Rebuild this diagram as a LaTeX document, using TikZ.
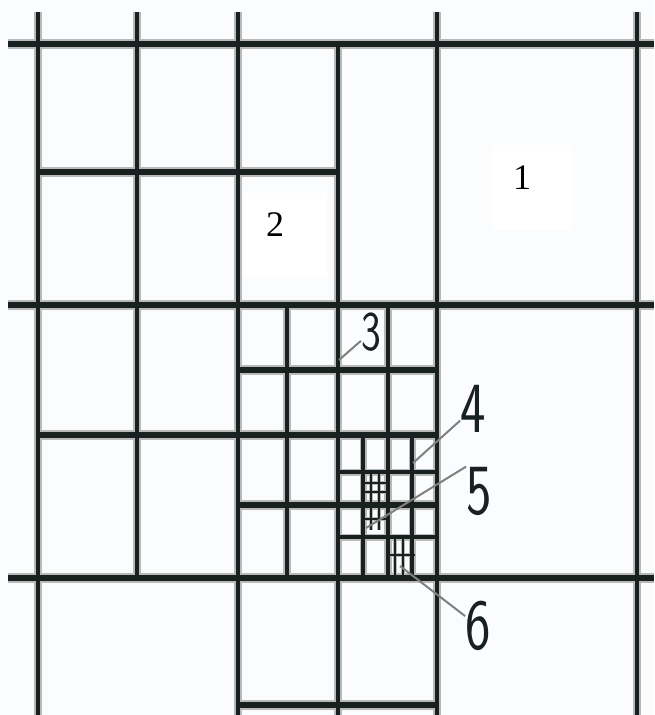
\documentclass[tikz,border=0pt]{standalone}
\usepackage{fontspec}
\setmainfont{Liberation Serif}
\usepackage{xcolor}
\usetikzlibrary{positioning}

\definecolor{paper}{RGB}{251,252,254}
\definecolor{ink}{RGB}{24,32,32}

\begin{document}
\begin{tikzpicture}[x=1pt,y=-1pt]
  \tikzstyle{serifnum}=[inner sep=0pt,font=\fontsize{36}{40}\selectfont]
  \tikzstyle{bignum}=[inner sep=0pt,text=ink,font=\sffamily\fontsize{72}{76}\selectfont]
  \tikzstyle{pointer}=[gray,line width=2pt]
  \fill[paper] (0,0) rectangle (654,715);
  \useasboundingbox (0,0) rectangle (654,715);
  % white patches behind the serif labels
  \fill[white] (492,145) rectangle (572,230);
  \fill[white] (243,193) rectangle (327,277);
  % two passes: grey halo, then ink
  \foreach \col/\extra in {gray!55/3pt,ink/0pt} {
    \foreach \xa/\xb/\y in {8/654/44,38/338/172,8/654/305,238/437/370,38/437/435,238/437/505,8/654/578,238/437/705}
      \draw[\col,line width=6.5pt+\extra] (\xa,\y) -- (\xb,\y);
    \foreach \x/\ya/\yb in {38/12/715,137/12/578,238/12/715,338/44/715,437/12/715,637/12/715,287/305/578,388/305/578}
      \draw[\col,line width=4.5pt+\extra] (\x,\ya) -- (\x,\yb);
    % finer level
    \foreach \xa/\xb/\y in {338/437/472,338/437/537}
      \draw[\col,line width=4pt+\extra] (\xa,\y) -- (\xb,\y);
    \foreach \x/\ya/\yb in {363/435/578,412/435/578}
      \draw[\col,line width=4pt+\extra] (\x,\ya) -- (\x,\yb);
    % finest cells
    \foreach \xa/\xb/\y in {363/387/483,363/387/492,363/387/519,387/415/555}
      \draw[\col,line width=2pt+0.5*\extra] (\xa,\y) -- (\xb,\y);
    \foreach \x/\ya/\yb in {371/472/505,379/472/505,371/505/530,379/505/530,395/537/578,403/537/578}
      \draw[\col,line width=2pt+0.5*\extra] (\x,\ya) -- (\x,\yb);
  }
  % labels
  \node[serifnum] (n1) at (522,178) {1};
  \node[serifnum] (n2) at (275,225) {2};
  \node[bignum,font=\sffamily\fontsize{56}{60}\selectfont] (n3) at (371,332) {\scalebox{0.75}[1]{3}};
  \node[bignum] (n4) at (473,409) {\scalebox{0.75}[1]{4}};
  \node[bignum] (n5) at (479,491) {\scalebox{0.75}[1]{5}};
  \node[bignum] (n6) at (478,626) {\scalebox{0.75}[1]{6}};
  \coordinate (t3) at (339,360);
  \coordinate (t4) at (413,463);
  \coordinate (t5) at (366,528);
  \coordinate (t6) at (400,566);
  \draw[pointer] (n3) -- (t3);
  \draw[pointer] (n4) -- (t4);
  \draw[pointer] (n5.north west) -- (t5);
  \draw[pointer] (n6) -- (t6);
\end{tikzpicture}
\end{document}
